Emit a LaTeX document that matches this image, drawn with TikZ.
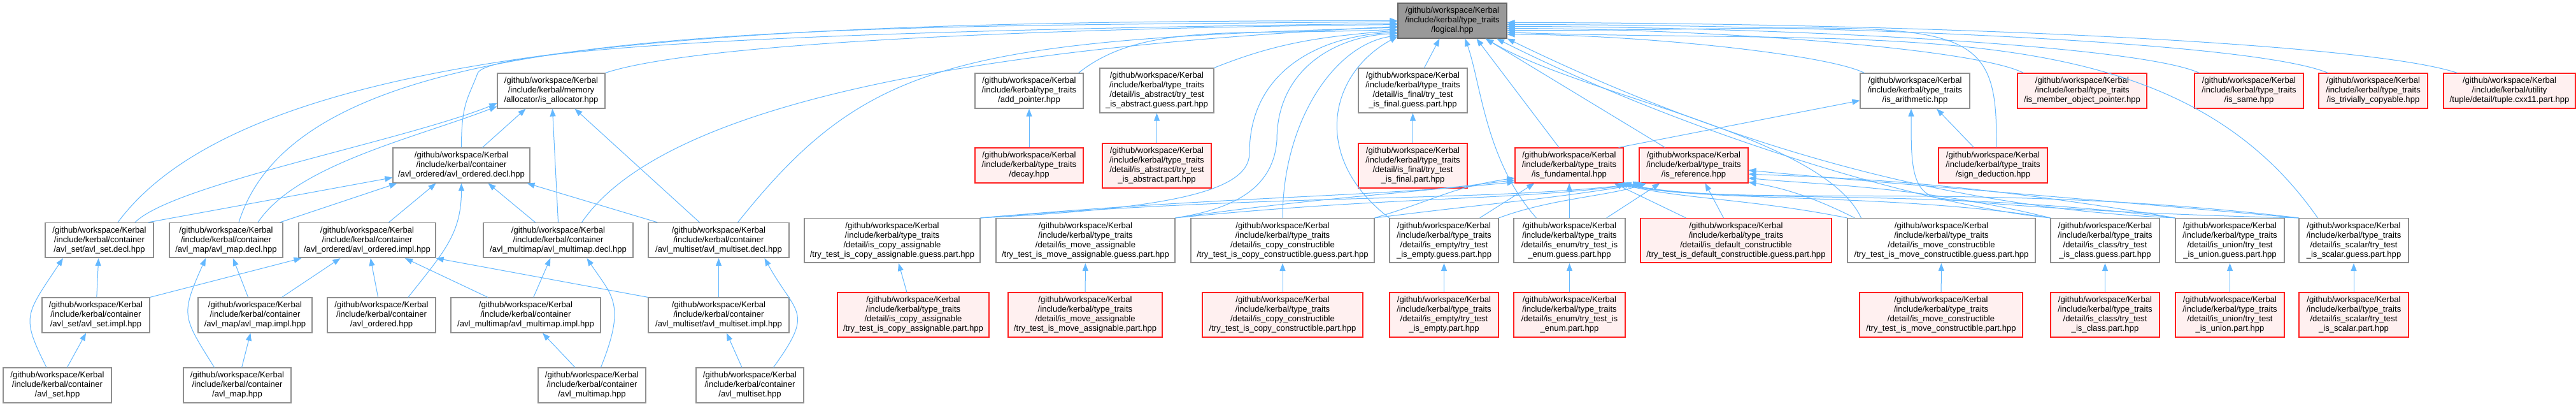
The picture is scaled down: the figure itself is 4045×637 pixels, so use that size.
\documentclass[tikz,border=0pt]{standalone}
\usepackage{fontspec}
\setmainfont{Liberation Sans}
\usetikzlibrary{arrows.meta,calc}
\definecolor{dedge}{HTML}{63B8FF}
\definecolor{dgray}{HTML}{8F8F8F}
\definecolor{droot}{HTML}{999999}
\definecolor{drootb}{HTML}{666666}
\definecolor{dred}{HTML}{FF2020}
\definecolor{dpink}{HTML}{FFF0F0}

\begin{document}
\begin{tikzpicture}[
  x=1pt,y=-1pt,
  file/.style={draw=dgray,fill=white,line width=1.2pt,align=center,inner sep=0pt,
    minimum height=55,font=\fontsize{13.1}{15}\selectfont,
    path picture={\draw[dgray,line width=2.4pt] (path picture bounding box.south west) -- (path picture bounding box.south east);}},
  tall/.style={minimum height=70},
  trunc/.style={file,draw=dred,fill=dpink,
    path picture={\draw[dred,line width=2.4pt] (path picture bounding box.south west) -- (path picture bounding box.south east);}},
  root/.style={file,draw=drootb,fill=droot,
    path picture={\draw[drootb,line width=2.4pt] (path picture bounding box.south west) -- (path picture bounding box.south east);}},
  arr/.style={-{Triangle[length=12pt,width=9pt]},dedge,line width=1pt}]
\useasboundingbox (0,0) rectangle (4045,637);
\fill[white] (0,0) rectangle (4045,637);

% ---------- the header everything depends on ----------
\node[root,minimum width=171] (lg) at (2280.5,32.5) {/github/workspace/Kerbal\\/include/kerbal/type\_traits\\/logical.hpp};

% ---------- memory and container headers ----------
\node[file,minimum width=169] (alloc) at (865.5,142.5) {/github/workspace/Kerbal\\/include/kerbal/memory\\/allocator/is\_allocator.hpp};
\node[file,minimum width=215] (odecl) at (724.5,259.5) {/github/workspace/Kerbal\\/include/kerbal/container\\/avl\_ordered/avl\_ordered.decl.hpp};
\node[file,minimum width=170] (sdecl) at (156,377) {/github/workspace/Kerbal\\/include/kerbal/container\\/avl\_set/avl\_set.decl.hpp};
\node[file,minimum width=178] (mdecl) at (355,377) {/github/workspace/Kerbal\\/include/kerbal/container\\/avl\_map/avl\_map.decl.hpp};
\node[file,minimum width=215] (oimpl) at (576.5,377) {/github/workspace/Kerbal\\/include/kerbal/container\\/avl\_ordered/avl\_ordered.impl.hpp};
\node[file,minimum width=235] (mmdecl) at (876.5,377) {/github/workspace/Kerbal\\/include/kerbal/container\\/avl\_multimap/avl\_multimap.decl.hpp};
\node[file,minimum width=221] (msdecl) at (1128.5,377) {/github/workspace/Kerbal\\/include/kerbal/container\\/avl\_multiset/avl\_multiset.decl.hpp};
\node[file,minimum width=169] (simpl) at (150.5,494.5) {/github/workspace/Kerbal\\/include/kerbal/container\\/avl\_set/avl\_set.impl.hpp};
\node[file,minimum width=179] (mimpl) at (400.5,494.5) {/github/workspace/Kerbal\\/include/kerbal/container\\/avl\_map/avl\_map.impl.hpp};
\node[file,minimum width=170] (ohpp) at (599,494.5) {/github/workspace/Kerbal\\/include/kerbal/container\\/avl\_ordered.hpp};
\node[file,minimum width=235] (mmimpl) at (825.5,494.5) {/github/workspace/Kerbal\\/include/kerbal/container\\/avl\_multimap/avl\_multimap.impl.hpp};
\node[file,minimum width=221] (msimpl) at (1128.5,494.5) {/github/workspace/Kerbal\\/include/kerbal/container\\/avl\_multiset/avl\_multiset.impl.hpp};
\node[file,minimum width=170] (aset) at (90,604.5) {/github/workspace/Kerbal\\/include/kerbal/container\\/avl\_set.hpp};
\node[file,minimum width=169] (amap) at (372.5,604.5) {/github/workspace/Kerbal\\/include/kerbal/container\\/avl\_map.hpp};
\node[file,minimum width=169] (ammap) at (929.5,604.5) {/github/workspace/Kerbal\\/include/kerbal/container\\/avl\_multimap.hpp};
\node[file,minimum width=169] (amset) at (1177.5,604.5) {/github/workspace/Kerbal\\/include/kerbal/container\\/avl\_multiset.hpp};

% ---------- type_traits, upper rows ----------
\node[file,minimum width=170] (addp) at (1616,142.5) {/github/workspace/Kerbal\\/include/kerbal/type\_traits\\/add\_pointer.hpp};
\node[file,tall,minimum width=179] (absg) at (1816.5,142) {/github/workspace/Kerbal\\/include/kerbal/type\_traits\\/detail/is\_abstract/try\_test\\\_is\_abstract.guess.part.hpp};
\node[file,tall,minimum width=171] (fing) at (2218.5,142) {/github/workspace/Kerbal\\/include/kerbal/type\_traits\\/detail/is\_final/try\_test\\\_is\_final.guess.part.hpp};
\node[file,minimum width=172] (arith) at (3007,142.5) {/github/workspace/Kerbal\\/include/kerbal/type\_traits\\/is\_arithmetic.hpp};
\node[trunc,minimum width=203] (mop) at (3269.5,142.5) {/github/workspace/Kerbal\\/include/kerbal/type\_traits\\/is\_member\_object\_pointer.hpp};
\node[trunc,minimum width=171] (same) at (3531.5,142.5) {/github/workspace/Kerbal\\/include/kerbal/type\_traits\\/is\_same.hpp};
\node[trunc,minimum width=171] (triv) at (3726.5,142.5) {/github/workspace/Kerbal\\/include/kerbal/type\_traits\\/is\_trivially\_copyable.hpp};
\node[trunc,minimum width=207] (tuple) at (3940.5,142.5) {/github/workspace/Kerbal\\/include/kerbal/utility\\/tuple/detail/tuple.cxx11.part.hpp};
\node[trunc,minimum width=170] (decay) at (1616,259.5) {/github/workspace/Kerbal\\/include/kerbal/type\_traits\\/decay.hpp};
\node[trunc,tall,minimum width=171] (absp) at (1816.5,260) {/github/workspace/Kerbal\\/include/kerbal/type\_traits\\/detail/is\_abstract/try\_test\\\_is\_abstract.part.hpp};
\node[trunc,tall,minimum width=171] (finp) at (2218.5,260) {/github/workspace/Kerbal\\/include/kerbal/type\_traits\\/detail/is\_final/try\_test\\\_is\_final.part.hpp};
\node[trunc,minimum width=170] (fund) at (2464,259.5) {/github/workspace/Kerbal\\/include/kerbal/type\_traits\\/is\_fundamental.hpp};
\node[trunc,minimum width=171] (ref) at (2659.5,259.5) {/github/workspace/Kerbal\\/include/kerbal/type\_traits\\/is\_reference.hpp};
\node[trunc,minimum width=171] (sign) at (3129.5,259.5) {/github/workspace/Kerbal\\/include/kerbal/type\_traits\\/sign\_deduction.hpp};

% ---------- type_traits, guess row ----------
\node[file,tall,minimum width=276] (cpag) at (1401,377.5) {/github/workspace/Kerbal\\/include/kerbal/type\_traits\\/detail/is\_copy\_assignable\\/try\_test\_is\_copy\_assignable.guess.part.hpp};
\node[file,tall,minimum width=281] (mvag) at (1704.5,377.5) {/github/workspace/Kerbal\\/include/kerbal/type\_traits\\/detail/is\_move\_assignable\\/try\_test\_is\_move\_assignable.guess.part.hpp};
\node[file,tall,minimum width=288] (cpcg) at (2014,377.5) {/github/workspace/Kerbal\\/include/kerbal/type\_traits\\/detail/is\_copy\_constructible\\/try\_test\_is\_copy\_constructible.guess.part.hpp};
\node[file,tall,minimum width=171] (empg) at (2267.5,377.5) {/github/workspace/Kerbal\\/include/kerbal/type\_traits\\/detail/is\_empty/try\_test\\\_is\_empty.guess.part.hpp};
\node[file,tall,minimum width=175] (enug) at (2464.5,377.5) {/github/workspace/Kerbal\\/include/kerbal/type\_traits\\/detail/is\_enum/try\_test\_is\\\_enum.guess.part.hpp};
\node[trunc,tall,minimum width=300] (defc) at (2726,377.5) {/github/workspace/Kerbal\\/include/kerbal/type\_traits\\/detail/is\_default\_constructible\\/try\_test\_is\_default\_constructible.guess.part.hpp};
\node[file,tall,minimum width=295] (mvcg) at (3048.5,377.5) {/github/workspace/Kerbal\\/include/kerbal/type\_traits\\/detail/is\_move\_constructible\\/try\_test\_is\_move\_constructible.guess.part.hpp};
\node[file,tall,minimum width=171] (clsg) at (3305.5,377.5) {/github/workspace/Kerbal\\/include/kerbal/type\_traits\\/detail/is\_class/try\_test\\\_is\_class.guess.part.hpp};
\node[file,tall,minimum width=171] (unig) at (3501.5,377.5) {/github/workspace/Kerbal\\/include/kerbal/type\_traits\\/detail/is\_union/try\_test\\\_is\_union.guess.part.hpp};
\node[file,tall,minimum width=172] (scag) at (3696,377.5) {/github/workspace/Kerbal\\/include/kerbal/type\_traits\\/detail/is\_scalar/try\_test\\\_is\_scalar.guess.part.hpp};

% ---------- type_traits, part row ----------
\node[trunc,tall,minimum width=238] (cpap) at (1434,494) {/github/workspace/Kerbal\\/include/kerbal/type\_traits\\/detail/is\_copy\_assignable\\/try\_test\_is\_copy\_assignable.part.hpp};
\node[trunc,tall,minimum width=242] (mvap) at (1704,494) {/github/workspace/Kerbal\\/include/kerbal/type\_traits\\/detail/is\_move\_assignable\\/try\_test\_is\_move\_assignable.part.hpp};
\node[trunc,tall,minimum width=252] (cpcp) at (2014,494) {/github/workspace/Kerbal\\/include/kerbal/type\_traits\\/detail/is\_copy\_constructible\\/try\_test\_is\_copy\_constructible.part.hpp};
\node[trunc,tall,minimum width=171] (empp) at (2267.5,494) {/github/workspace/Kerbal\\/include/kerbal/type\_traits\\/detail/is\_empty/try\_test\\\_is\_empty.part.hpp};
\node[trunc,tall,minimum width=175] (enup) at (2464.5,494) {/github/workspace/Kerbal\\/include/kerbal/type\_traits\\/detail/is\_enum/try\_test\_is\\\_enum.part.hpp};
\node[trunc,tall,minimum width=256] (mvcp) at (3048,494) {/github/workspace/Kerbal\\/include/kerbal/type\_traits\\/detail/is\_move\_constructible\\/try\_test\_is\_move\_constructible.part.hpp};
\node[trunc,tall,minimum width=171] (clsp) at (3305.5,494) {/github/workspace/Kerbal\\/include/kerbal/type\_traits\\/detail/is\_class/try\_test\\\_is\_class.part.hpp};
\node[trunc,tall,minimum width=171] (unip) at (3501.5,494) {/github/workspace/Kerbal\\/include/kerbal/type\_traits\\/detail/is\_union/try\_test\\\_is\_union.part.hpp};
\node[trunc,tall,minimum width=172] (scap) at (3696,494) {/github/workspace/Kerbal\\/include/kerbal/type\_traits\\/detail/is\_scalar/try\_test\\\_is\_scalar.part.hpp};

% ---------- container edges ----------
\draw[arr] ($(sdecl.north)+(29,0)$) .. controls +(215,-290) and +(-1000,0) .. (lg.180);
\draw[arr] ($(sdecl.north)+(56,0)$) .. controls +(60,-60) and +(-150,60) .. (alloc.193);
\draw[arr] ($(sdecl.north east)+(-9,0)$) -- (odecl.190);
\draw[arr] ($(mdecl.north)+(20,0)$) .. controls +(100,-320) and +(-1000,10) .. (lg.181.5);
\draw[arr] ($(mdecl.north)+(50,0)$) .. controls +(60,-90) and +(-130,50) .. (alloc.196);
\draw[arr] ($(mdecl.north east)+(-5,0)$) -- ($(odecl.south west)+(7,0)$);
\draw[arr] ($(oimpl.north)+(34,0)$) -- ($(odecl.south)+(-40,0)$);
\draw[arr] (odecl.north) .. controls +(0,-70) and +(-15,40) .. (750,115) .. controls +(15,-40) and +(-900,10) .. (lg.183);
\draw[arr] ($(odecl.north)+(33,0)$) -- ($(alloc.south)+(-40,0)$);
\draw[arr] (alloc.north east) .. controls +(150,-50) and +(-500,5) .. (lg.184.5);
\draw[arr] ($(mmdecl.north)+(-36,0)$) -- ($(odecl.south)+(42,0)$);
\draw[arr] (mmdecl.north) -- ($(alloc.south)+(2,0)$);
\draw[arr] ($(mmdecl.north)+(37,0)$) .. controls +(137,-200) and +(-600,30) .. (lg.186);
\draw[arr] ($(msdecl.north west)+(15,0)$) -- ($(odecl.south east)+(-5,0)$);
\draw[arr] ($(msdecl.north)+(-30,0)$) -- ($(alloc.south)+(37,0)$);
\draw[arr] ($(msdecl.north)+(30,0)$) .. controls +(200,-250) and +(-700,20) .. (lg.187.5);
\draw[arr] (simpl) -- (sdecl);
\draw[arr] (simpl.north east) -- ($(oimpl.south west)+(5,0)$);
\draw[arr] (mimpl) -- (mdecl);
\draw[arr] (mimpl) -- (oimpl);
\draw[arr] (ohpp) -- (oimpl);
\draw[arr] ($(ohpp.north)+(42,0)$) .. controls +(55,-70) and +(0,80) .. (odecl.south);
\draw[arr] (mmimpl) -- (oimpl);
\draw[arr] (mmimpl) -- (mmdecl);
\draw[arr] (msimpl.north west) -- (oimpl.south east);
\draw[arr] (msimpl) -- (msdecl);
\draw[arr] (aset) -- (simpl);
\draw[arr] ($(aset.north)+(-17,0)$) .. controls +(-40,-80) and +(-60,90) .. ($(sdecl.south)+(-57,0)$);
\draw[arr] (amap) -- (mimpl);
\draw[arr] ($(amap.north)+(-36,0)$) .. controls +(-50,-80) and +(-40,90) .. ($(mdecl.south)+(-32,0)$);
\draw[arr] (ammap) -- (mmimpl);
\draw[arr] ($(ammap.north)+(14,0)$) .. controls +(40,-100) and +(40,60) .. ($(mmdecl.south)+(45,0)$);
\draw[arr] (amset) -- (msimpl);
\draw[arr] ($(amset.north)+(37,0)$) .. controls +(65,-90) and +(50,90) .. ($(msdecl.south)+(72,0)$);

% ---------- type_traits edges ----------
\foreach \a/\b in {decay/addp,absp/absg,finp/fing,cpap/cpag,mvap/mvag,cpcp/cpcg,empp/empg,enup/enug,mvcp/mvcg,clsp/clsg,unip/unig,scap/scag}
  \draw[arr] (\a) -- (\b);
\draw[arr] ($(addp.north east)+(-8,0)$) .. controls +(100,-80) and +(-250,10) .. (lg.189);
\draw[arr] (absg.north east) .. controls +(100,-40) and +(-120,10) .. (lg.190.5);
\draw[arr] ($(fing.north)+(18,0)$) -- ($(lg.south)+(-20,0)$);
\draw[arr] ($(fund.north)+(-16,0)$) -- ($(lg.south)+(38,0)$);
\draw[arr] ($(ref.north)+(-45,0)$) -- ($(lg.south)+(52,0)$);
\draw[arr] ($(fund.north east)+(-8,0)$) -- (arith.190);
\draw[arr] ($(sign.north)+(-30,0)$) -- ($(arith.south)+(34,0)$);
\draw[arr] ($(sign.north)+(5,0)$) .. controls +(5,-230) and +(700,0) .. (lg.-10);
\draw[arr] ($(arith.north west)+(7,0)$) .. controls +(-60,-30) and +(200,0) .. (lg.-14);
\draw[arr] ($(mop.north west)+(10,0)$) .. controls +(-80,-40) and +(300,0) .. (lg.-8);
\draw[arr] ($(same.north west)+(8,0)$) .. controls +(-100,-45) and +(400,0) .. (lg.-6);
\draw[arr] ($(triv.north west)+(15,0)$) .. controls +(-120,-50) and +(500,0) .. (lg.-4);
\draw[arr] ($(tuple.north west)+(22,0)$) .. controls +(-150,-50) and +(600,0) .. (lg.-2);

% guess row, left half
\draw[arr] (cpag.north east) .. controls +(300,-15) and +(0,60) .. (1962,240) .. controls +(0,-130) and +(-120,5) .. (lg.192);
\draw[arr] (mvag.north east) .. controls +(100,-15) and +(-5,70) .. (2005,220) .. controls +(0,-110) and +(-100,5) .. (lg.193.5);
\draw[arr] (cpcg.north) .. controls +(0,-150) and +(-100,15) .. (lg.195);
\draw[arr] (empg.north west) .. controls +(-122,-93) and +(-110,60) .. (lg.196.5);
\draw[arr] ($(enug.north west)+(36,0)$) .. controls +(-80,-90) and +(25,70) .. ($(lg.south)+(20,0)$);
\draw[arr] (cpag.north east) .. controls +(400,-35) and +(-250,25) .. (fund.197);
\draw[arr] (mvag.north east) .. controls +(250,-35) and +(-200,25) .. (fund.195);
\draw[arr] (cpcg.north east) .. controls +(100,-30) and +(-100,15) .. (fund.193);
\draw[arr] (cpag.north east) .. controls +(500,-40) and +(-250,30) .. ($(ref.south west)+(3,0)$);
\draw[arr] (mvag.north east) .. controls +(350,-35) and +(-200,28) .. ($(ref.south west)+(6,0)$);
\draw[arr] (cpcg.north east) .. controls +(200,-25) and +(-150,25) .. ($(ref.south west)+(9,0)$);
\draw[arr] ($(empg.north east)+(-30,0)$) -- ($(fund.south west)+(31,0)$);
\draw[arr] (empg.north east) .. controls +(80,-30) and +(-60,20) .. ($(ref.south west)+(12,0)$);
\draw[arr] (enug) -- (fund);
\draw[arr] ($(enug.north east)+(-30,0)$) -- ($(ref.south west)+(33,0)$);

% guess row, right half
\draw[arr] ($(defc.north west)+(72,0)$) -- ($(fund.south east)+(-15,0)$);
\draw[arr] ($(defc.north west)+(131,0)$) -- ($(ref.south)+(18,0)$);
\draw[arr] (mvcg.north west) .. controls +(-150,-30) and +(100,25) .. ($(fund.south east)+(-10,0)$);
\draw[arr] ($(mvcg.north west)+(12,0)$) .. controls +(-60,-30) and +(60,10) .. (ref.-17);
\draw[arr] ($(mvcg.north west)+(22,0)$) .. controls +(-60,-130) and +(150,90) .. (lg.-28);
\draw[arr] (clsg.north west) .. controls +(-250,-40) and +(120,30) .. ($(fund.south east)+(-6,0)$);
\draw[arr] (clsg.north west) .. controls +(-200,-50) and +(100,10) .. (ref.-13);
\draw[arr] (clsg.north west) .. controls +(-200,-20) and +(300,150) .. (lg.-22);
\draw[arr] (unig.north west) .. controls +(-400,-50) and +(150,35) .. ($(fund.south east)+(-2,0)$);
\draw[arr] (unig.north west) .. controls +(-350,-60) and +(120,5) .. (ref.-9);
\draw[arr] (unig.north west) .. controls +(-350,-15) and +(350,170) .. (lg.-18);
\draw[arr] (scag.north west) .. controls +(-500,-60) and +(180,40) .. (fund.south east);
\draw[arr] (scag.north west) .. controls +(-450,-40) and +(150,15) .. (ref.-5);
\draw[arr] (scag.north west) .. controls +(-250,-5) and +(60,10) .. (3040,310) .. controls +(-40,-10) and +(0,80) .. ($(arith.south)+(-6,0)$);
\draw[arr] ($(scag.north west)+(30,0)$) .. controls +(-230,-330) and +(600,20) .. (lg.-12);
\end{tikzpicture}
\end{document}
